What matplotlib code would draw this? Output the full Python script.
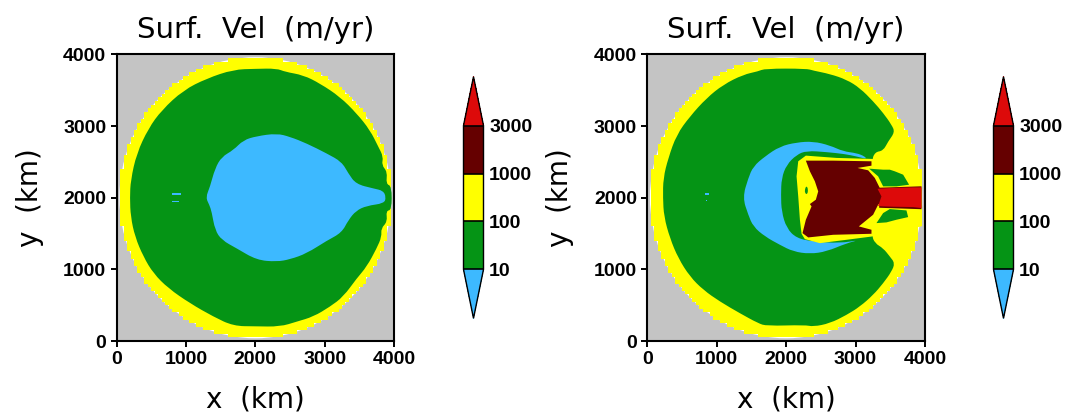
import numpy as np
import matplotlib
matplotlib.use("Agg")
import matplotlib.pyplot as plt
from matplotlib.colors import ListedColormap, BoundaryNorm
from matplotlib.cm import ScalarMappable
from matplotlib.patches import Circle, Polygon, PathPatch
from matplotlib.path import Path

W, H = 1066, 419
LEVELS = [10, 100, 1000, 3000]
LEVEL_LABELS = ["10", "100", "1000", "3000"]
TICKS = [0, 1000, 2000, 3000, 4000]
TITLE = "Surf.  Vel  (m/yr)"

BLUE, GREEN, YELLOW, MAROON, RED = "#3DB9FF", "#059415", "#FFFF00", "#650000", "#DD0A0A"
GRAY = "#C4C4C4"

ICE_RADIUS = 1970
CELL = 50

# Contour outlines, in km (x, y)
left_green = [(1683,3790),(2000,3800),(2308,3805),(2428,3758),(2692,3712),(2933,3595),(3221,3409),(3462,3177),(3654,2944),
 (3774,2712),(3846,2572),(3822,2456),(3904,2363),(3885,2191),(3967,2163),(3967,1828),(3885,1819),(3904,1665),
 (3813,1572),(3822,1456),(3750,1293),(3606,1037),(3462,874),(3269,619),(3077,479),(2837,340),(2596,270),
 (2356,200),(2000,205),(1683,209),(1394,340),(1058,526),(745,735),(529,944),(385,1177),(264,1456),(202,1735),(190,2000),(202,2246),
 (288,2618),(457,2967),(649,3223),(962,3502),(1298,3665)]
left_blue = [(1284,2005),(1346,2153),(1418,2409),(1515,2572),(1683,2665),(1827,2805),(2019,2860),(2308,2898),
 (2500,2851),(2741,2758),(3029,2619),(3245,2502),(3342,2339),(3452,2191),(3702,2130),(3846,2098),(3885,2005),
 (3856,1921),(3606,1888),(3452,1819),(3342,1688),(3245,1512),(3029,1400),(2741,1223),(2500,1140),(2308,1107),
 (2019,1130),(1731,1293),(1515,1409),(1418,1549),(1370,1805),(1337,1898)]
left_dash_a = [(793,2036),(928,2036),(928,2066),(793,2066)]
left_dash_b = [(803,1941),(904,1941),(904,1957),(803,1957)]

right_green = [(1694,3803),(2294,3803),(2390,3775),(2630,3728),(2870,3649),(3062,3532),(3254,3346),(3398,3183),
 (3518,3020),(3566,2917),(3470,2787),(3398,2656),(3278,2638),(3230,2507),(3230,1482),(3278,1365),(3398,1295),
 (3494,1179),(3566,1086),(3518,969),(3398,806),(3254,643),(3062,480),(2870,363),(2630,247),(2390,200),(2270,224),
 (1718,210),(1598,247),(1334,387),(1046,550),(806,713),(614,899),(446,1156),(326,1435),(240,1738),(225,2000),(230,2274),
 (302,2554),(422,2880),(614,3136),(854,3392),(1094,3579),(1382,3719),(1598,3765)]
right_blue = [(1373,2004),(1454,2274),(1526,2437),(1694,2577),(1910,2717),(2150,2773),(2390,2787),(2630,2731),
 (2822,2647),(3014,2624),(3134,2577),(3158,2540),(3014,2577),(2846,2610),(2582,2638),(2294,2656),(2150,2600),
 (2006,2460),(1934,2274),(1925,2041),(1934,1808),(2006,1575),(2150,1435),(2390,1389),(2774,1365),(3062,1412),
 (2870,1365),(2582,1249),(2342,1216),(2102,1249),(1910,1342),(1694,1459),(1526,1598),(1454,1761)]
right_dash_a = [(830,2045),(893,2045),(893,2065),(830,2065)]
right_dash_b = [(840,1950),(864,1950),(864,1964),(840,1964)]
right_yellow = [(2284,2588),(2725,2556),(3244,2542),(3949,2346),(3949,1600),(3244,1460),(2869,1413),(2486,1366),
 (2270,1422),(2222,1497),(2198,1693),(2174,2019),(2150,2299),(2174,2509)]
right_maroon = [(2284,2518),(2678,2518),(3229,2509),(3229,2448),(3028,2416),(3181,2383),(3277,2276),(3373,2089),
 (3373,1949),(3325,1903),(3253,1763),(3047,1600),(3229,1553),(3229,1497),(2678,1483),(2318,1446),(2236,1506),
 (2284,1693),(2366,1879),(2342,1912),(2428,1973),(2462,2089),(2414,2229),(2342,2369)]
right_pocket = [(2294,2169),(2318,2113),(2303,2043),(2270,2066),(2270,2122)]
right_patch_top = [(3196,2406),(3397,2392),(3493,2392),(3565,2369),(3685,2322),(3771,2182),(3589,2159),(3397,2159),(3325,2299)]
right_patch_bot = [(3301,1646),(3397,1786),(3493,1842),(3733,1823),(3757,1730),(3589,1693),(3445,1656)]
right_stream_edge = [(3340,2140),(3949,2160),(3949,1840),(3340,1860)]
right_stream = [(3316,2125),(3493,2135),(3829,2145),(3949,2145),(3949,1856),(3829,1870),(3541,1875),(3397,1880),(3325,1885),(3373,2019)]

left_layers = [(left_green, GREEN, True), (left_blue, BLUE, True), (left_dash_a, BLUE, False), (left_dash_b, BLUE, False)]
right_layers = [(right_green, GREEN, True), (right_blue, BLUE, True), (right_dash_a, BLUE, False), (right_dash_b, BLUE, False),
                (right_yellow, YELLOW, False), (right_maroon, MAROON, False), (right_pocket, GREEN, True),
                (right_patch_top, GREEN, False), (right_patch_bot, GREEN, False),
                (right_stream_edge, MAROON, False), (right_stream, RED, False)]

plt.rcParams["font.family"] = "DejaVu Sans"
fig = plt.figure(figsize=(W / 100, H / 100), dpi=100)


def px_axes(x0, x1, ytop, ybot):
    return fig.add_axes([x0 / W, 1 - ybot / H, (x1 - x0) / W, (ybot - ytop) / H])


def rounded_path(pts):
    """Closed path using the outline vertices as quadratic control points."""
    p = np.asarray(pts, float)
    mid = (p + np.roll(p, -1, axis=0)) / 2
    verts, codes = [mid[-1]], [Path.MOVETO]
    for c, m in zip(p, mid):
        verts += [c, m]
        codes += [Path.CURVE3, Path.CURVE3]
    return Path(verts, codes)


edges = np.arange(0, 4000 + CELL, CELL)
centers = (edges[:-1] + edges[1:]) / 2
gx, gy = np.meshgrid(centers, centers)
ice = np.ma.masked_where(np.hypot(gx - 2000, gy - 2000) > ICE_RADIUS, np.ones_like(gx))


def panel(x0, x1, layers):
    ax = px_axes(x0, x1, 54.5, 341)
    ax.set_facecolor(GRAY)
    ax.add_patch(Circle((2000, 2000), ICE_RADIUS - 8, fc="white", ec="none", zorder=1))
    ax.pcolormesh(edges, edges, ice, cmap=ListedColormap([YELLOW]), zorder=2, antialiased=False)
    for i, (pts, col, smooth) in enumerate(layers):
        if smooth:
            patch = PathPatch(rounded_path(pts), fc=col, ec="none", zorder=3 + i)
        else:
            patch = Polygon(pts, closed=True, fc=col, ec="none", zorder=3 + i)
        ax.add_patch(patch)
    ax.set_xlim(0, 4000)
    ax.set_ylim(0, 4000)
    ax.set_xticks(TICKS)
    ax.set_yticks(TICKS)
    ax.tick_params(length=4.5, width=1.4, pad=3, labelsize=14)
    for lab in ax.get_xticklabels() + ax.get_yticklabels():
        lab.set_fontfamily("Liberation Sans")
        lab.set_fontweight("bold")
    for s in ax.spines.values():
        s.set_linewidth(1.5)
    ax.set_title(TITLE, fontsize=21, pad=12)
    ax.set_xlabel("x  (km)", fontsize=20, labelpad=12)
    ax.set_ylabel("y  (km)", fontsize=20, labelpad=14)
    return ax


def cbar(x0, x1):
    cax = px_axes(x0, x1, 76.7, 318.3)
    cmap = ListedColormap([GREEN, YELLOW, MAROON]).with_extremes(under=BLUE, over=RED)
    norm = BoundaryNorm(LEVELS, 3)
    cb = fig.colorbar(ScalarMappable(norm=norm, cmap=cmap), cax=cax, extend="both",
                      extendfrac=0.34, spacing="uniform", drawedges=True, ticks=LEVELS)
    cb.set_ticklabels(LEVEL_LABELS)
    cb.ax.tick_params(length=0, pad=4, labelsize=14)
    for lab in cb.ax.get_yticklabels():
        lab.set_fontfamily("Liberation Sans")
        lab.set_fontweight("bold")
    cb.outline.set_linewidth(1.0)
    cb.dividers.set_linewidth(1.2)
    cb.dividers.set_color("black")


panel(116.7, 394, left_layers)
panel(647.3, 925, right_layers)
cbar(463.5, 483.5)
cbar(993.5, 1013.5)
fig.savefig("out.png", dpi=100)
